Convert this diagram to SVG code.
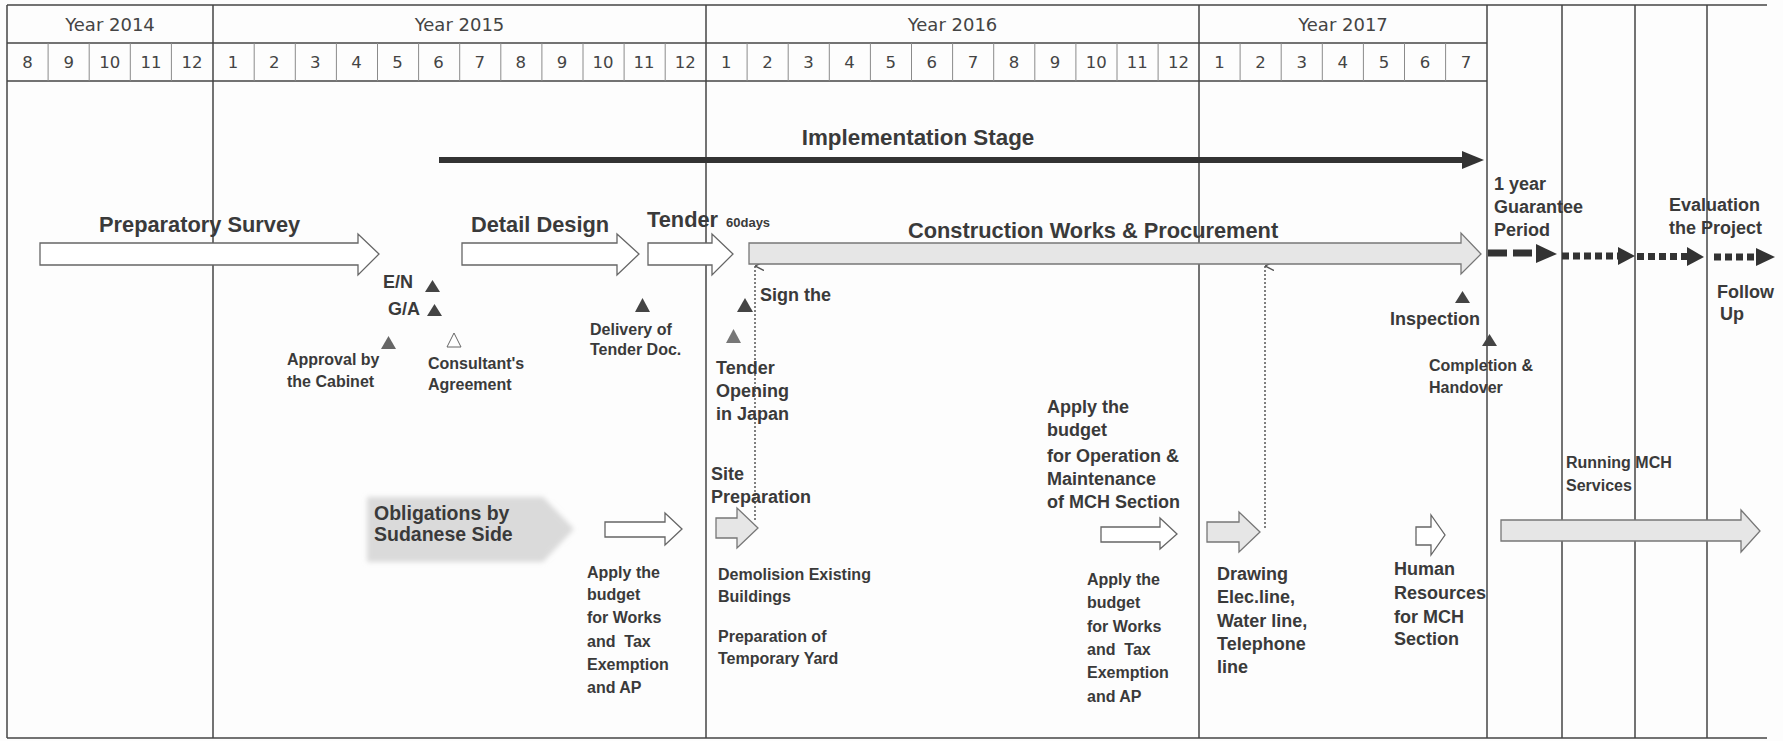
<svg xmlns="http://www.w3.org/2000/svg" width="1783" height="741" viewBox="0 0 1783 741">
<style>
.hd{font-family:"DejaVu Sans","Liberation Sans",sans-serif;font-size:16.5px;fill:#444;text-anchor:middle}
.yr{font-size:18px}
.t{font-family:"Liberation Sans",Arial,sans-serif;font-weight:bold;fill:#3a3a3a;white-space:pre}
.s16{font-size:16px}.s18{font-size:18px}.s19{font-size:19px}.s21{font-size:21.8px}
.g{stroke:#444;stroke-width:1.5;fill:none}
.m{stroke:#8a8a8a;stroke-width:1;fill:none}
.hol{fill:#fff;stroke:#666;stroke-width:1.3}
.gry{fill:#e6e6e6;stroke:#777;stroke-width:1.3}
.tri{fill:#444}
.dot{stroke:#555;stroke-width:1.5;stroke-dasharray:2 2;fill:none}
.dk{fill:#333}
</style>
<defs>
<filter id="blur" x="-10%" y="-20%" width="120%" height="140%"><feGaussianBlur stdDeviation="2.5"/></filter>
<marker id="up" viewBox="0 0 6 6" refX="3" refY="0" markerWidth="6" markerHeight="6" orient="auto-start-reverse"><path d="M0,6 L3,0 L6,6" fill="none" stroke="#555" stroke-width="1"/></marker>
</defs>
<rect x="0" y="0" width="1783" height="741" fill="#fdfdfd"/>
<g id="grid">
<line class="g" x1="7" y1="5" x2="1767" y2="5"/>
<line class="g" x1="7" y1="43" x2="1487" y2="43"/>
<line class="g" x1="7" y1="81" x2="1487" y2="81"/>
<line class="g" x1="7" y1="738" x2="1767" y2="738"/>
<line class="g" x1="7" y1="5" x2="7" y2="738"/>
<line class="g" x1="213" y1="5" x2="213" y2="738"/>
<line class="g" x1="706" y1="5" x2="706" y2="738"/>
<line class="g" x1="1199" y1="5" x2="1199" y2="738"/>
<line class="g" x1="1487" y1="5" x2="1487" y2="738"/>
<line class="g" x1="1562" y1="5" x2="1562" y2="738"/>
<line class="g" x1="1635" y1="5" x2="1635" y2="738"/>
<line class="g" x1="1707" y1="5" x2="1707" y2="738"/>
<g class="m">
<line x1="48.1" y1="43" x2="48.1" y2="81"/><line x1="89.2" y1="43" x2="89.2" y2="81"/><line x1="130.3" y1="43" x2="130.3" y2="81"/><line x1="171.4" y1="43" x2="171.4" y2="81"/>
<line x1="254.2" y1="43" x2="254.2" y2="81"/><line x1="295.3" y1="43" x2="295.3" y2="81"/><line x1="336.4" y1="43" x2="336.4" y2="81"/><line x1="377.5" y1="43" x2="377.5" y2="81"/><line x1="418.6" y1="43" x2="418.6" y2="81"/><line x1="459.7" y1="43" x2="459.7" y2="81"/><line x1="500.8" y1="43" x2="500.8" y2="81"/><line x1="541.9" y1="43" x2="541.9" y2="81"/><line x1="583" y1="43" x2="583" y2="81"/><line x1="624.1" y1="43" x2="624.1" y2="81"/><line x1="665.2" y1="43" x2="665.2" y2="81"/>
<line x1="747.1" y1="43" x2="747.1" y2="81"/><line x1="788.2" y1="43" x2="788.2" y2="81"/><line x1="829.3" y1="43" x2="829.3" y2="81"/><line x1="870.4" y1="43" x2="870.4" y2="81"/><line x1="911.5" y1="43" x2="911.5" y2="81"/><line x1="952.6" y1="43" x2="952.6" y2="81"/><line x1="993.7" y1="43" x2="993.7" y2="81"/><line x1="1034.8" y1="43" x2="1034.8" y2="81"/><line x1="1075.9" y1="43" x2="1075.9" y2="81"/><line x1="1117" y1="43" x2="1117" y2="81"/><line x1="1158.1" y1="43" x2="1158.1" y2="81"/>
<line x1="1240.1" y1="43" x2="1240.1" y2="81"/><line x1="1281.2" y1="43" x2="1281.2" y2="81"/><line x1="1322.3" y1="43" x2="1322.3" y2="81"/><line x1="1363.4" y1="43" x2="1363.4" y2="81"/><line x1="1404.5" y1="43" x2="1404.5" y2="81"/><line x1="1445.6" y1="43" x2="1445.6" y2="81"/>
</g>
<g class="hd yr">
<text x="110" y="31">Year 2014</text><text x="459.5" y="31">Year 2015</text><text x="952.5" y="31">Year 2016</text><text x="1343" y="31">Year 2017</text>
</g>
<g class="hd">
<text x="27.6" y="68">8</text><text x="68.7" y="68">9</text><text x="109.8" y="68">10</text><text x="150.9" y="68">11</text><text x="192" y="68">12</text>
<text x="233.1" y="68">1</text><text x="274.2" y="68">2</text><text x="315.3" y="68">3</text><text x="356.4" y="68">4</text><text x="397.5" y="68">5</text><text x="438.6" y="68">6</text><text x="479.7" y="68">7</text><text x="520.8" y="68">8</text><text x="561.9" y="68">9</text><text x="603" y="68">10</text><text x="644.1" y="68">11</text><text x="685.2" y="68">12</text>
<text x="726.3" y="68">1</text><text x="767.4" y="68">2</text><text x="808.5" y="68">3</text><text x="849.6" y="68">4</text><text x="890.7" y="68">5</text><text x="931.8" y="68">6</text><text x="972.9" y="68">7</text><text x="1014" y="68">8</text><text x="1055.1" y="68">9</text><text x="1096.2" y="68">10</text><text x="1137.3" y="68">11</text><text x="1178.4" y="68">12</text>
<text x="1219.5" y="68">1</text><text x="1260.6" y="68">2</text><text x="1301.7" y="68">3</text><text x="1342.8" y="68">4</text><text x="1383.9" y="68">5</text><text x="1425" y="68">6</text><text x="1466.1" y="68">7</text>
</g>
</g>
<g id="connectors">
<line x1="439" y1="160" x2="1465" y2="160" stroke="#333" stroke-width="6"/>
<polygon class="dk" points="1462,151 1484,160 1462,169"/>
<line class="dot" x1="755" y1="266" x2="755" y2="522" marker-start="url(#up)"/>
<line class="dot" x1="1265" y1="266" x2="1265" y2="528" marker-start="url(#up)"/>
<line x1="1488" y1="253" x2="1537" y2="253" stroke="#333" stroke-width="7" stroke-dasharray="19 6"/>
<polygon class="dk" points="1536,244 1557,254 1536,263"/>
<line x1="1562" y1="256" x2="1619" y2="256" stroke="#333" stroke-width="7" stroke-dasharray="7 4"/>
<polygon class="dk" points="1618,247 1635,256 1618,265"/>
<line x1="1637" y1="256.5" x2="1688" y2="256.5" stroke="#333" stroke-width="7" stroke-dasharray="7 4"/>
<polygon class="dk" points="1687,247 1704,257 1687,266"/>
<line x1="1714" y1="257" x2="1757" y2="257" stroke="#333" stroke-width="7" stroke-dasharray="7 4"/>
<polygon class="dk" points="1756,248 1775,257 1756,266"/>
</g>
<g id="implementation-stage"><text class="t" font-size="22.4" x="918" y="145" text-anchor="middle">Implementation Stage</text></g>
<g id="preparatory-survey">
<path class="hol" d="M40,243 L358,243 L358,234 L379,254 L358,275 L358,265 L40,265 Z"/>
<text class="t s21" x="99" y="232">Preparatory Survey</text>
</g>
<g id="detail-design">
<path class="hol" d="M462,243 L617,243 L617,234 L639,254 L617,275 L617,265 L462,265 Z"/>
<text class="t s21" x="471" y="232">Detail Design</text>
</g>
<g id="tender">
<path class="hol" d="M648,243 L712,243 L712,234 L733,254 L712,275 L712,265 L648,265 Z"/>
<text class="t s21" x="647" y="227">Tender</text>
<text class="t" x="726" y="227" font-size="13">60days</text>
</g>
<g id="construction">
<path class="gry" d="M749,243 L1461,243 L1461,233 L1481,254 L1461,274 L1461,264 L749,264 Z"/>
<text class="t s21" x="908" y="238">Construction Works &amp; Procurement</text>
</g>
<g id="en">
<text class="t s18" x="383" y="288">E/N</text><polygon class="tri" points="425,292 432.5,280 440,292"/>
</g>
<g id="ga">
<text class="t s18" x="388" y="315">G/A</text><polygon class="tri" points="427,316 434.5,304 442,316"/>
</g>
<g id="approval">
<polygon fill="#666" points="381,349 388.5,336 396,349"/>
<text class="t s16" x="287" y="365">Approval by</text><text class="t s16" x="287" y="387">the Cabinet</text>
</g>
<g id="consultant">
<polygon fill="#fff" stroke="#666" stroke-width="1" points="447,347 454,333 461,347"/>
<text class="t s16" x="428" y="369">Consultant's</text><text class="t s16" x="428" y="390">Agreement</text>
</g>
<g id="delivery">
<polygon class="tri" points="635,312 642.5,298 650,312"/>
<text class="t s16" x="590" y="335">Delivery of</text><text class="t s16" x="590" y="355">Tender Doc.</text>
</g>
<g id="sign">
<polygon class="tri" points="737,312 745,298 753,312"/>
<text class="t s18" x="760" y="301">Sign the</text>
</g>
<g id="tender-opening">
<polygon fill="#777" points="726,343 733.5,329 741,343"/>
<text class="t s18" x="716" y="374">Tender</text><text class="t s18" x="716" y="397">Opening</text><text class="t s18" x="716" y="420">in Japan</text>
</g>
<g id="inspection">
<polygon class="tri" points="1455,303 1462.5,291 1470,303"/>
<text class="t s18" x="1390" y="325">Inspection</text>
</g>
<g id="completion">
<polygon class="tri" points="1482,346 1489.5,334 1497,346"/>
<text class="t s16" x="1429" y="371">Completion &amp;</text><text class="t s16" x="1429" y="393">Handover</text>
</g>
<g id="guarantee">
<text class="t s18" x="1494" y="190">1 year</text><text class="t s18" x="1494" y="213">Guarantee</text><text class="t s18" x="1494" y="236">Period</text>
</g>
<g id="evaluation">
<text class="t s18" x="1669" y="211">Evaluation</text><text class="t s18" x="1669" y="234">the Project</text>
</g>
<g id="follow-up">
<text class="t s18" x="1717" y="298">Follow</text><text class="t s18" x="1720" y="320">Up</text>
</g>
<g id="obligations">
<polygon fill="#dadada" filter="url(#blur)" points="367,497 543,497 574,529 543,562 367,562"/>
<text class="t" x="374" y="520" font-size="19.5" fill="#444">Obligations by</text>
<text class="t" x="374" y="541" font-size="19.5" fill="#444">Sudanese Side</text>
</g>
<g id="apply-works-1">
<path class="hol" d="M605,522 L665,522 L665,513 L682,529 L665,545 L665,537 L605,537 Z"/>
<text class="t s16" x="587" y="578">Apply the</text><text class="t s16" x="587" y="600">budget</text><text class="t s16" x="587" y="623">for Works</text><text class="t s16" x="587" y="647">and  Tax</text><text class="t s16" x="587" y="670">Exemption</text><text class="t s16" x="587" y="693">and AP</text>
</g>
<g id="site-preparation">
<path class="gry" d="M716,518 L737,518 L737,508 L758,528 L737,548 L737,538 L716,538 Z"/>
<text class="t s18" x="711" y="480">Site</text><text class="t s18" x="711" y="503">Preparation</text>
<text class="t s16" x="718" y="580">Demolision Existing</text><text class="t s16" x="718" y="602">Buildings</text>
<text class="t s16" x="718" y="642">Preparation of</text><text class="t s16" x="718" y="664">Temporary Yard</text>
</g>
<g id="apply-om">
<text class="t s18" x="1047" y="413">Apply the</text><text class="t s18" x="1047" y="436">budget</text><text class="t s18" x="1047" y="462">for Operation &amp;</text><text class="t s18" x="1047" y="485">Maintenance</text><text class="t s18" x="1047" y="508">of MCH Section</text>
</g>
<g id="apply-works-2">
<path class="hol" d="M1101,527 L1160,527 L1160,518 L1177,534 L1160,549 L1160,542 L1101,542 Z"/>
<text class="t s16" x="1087" y="585">Apply the</text><text class="t s16" x="1087" y="608">budget</text><text class="t s16" x="1087" y="632">for Works</text><text class="t s16" x="1087" y="655">and  Tax</text><text class="t s16" x="1087" y="678">Exemption</text><text class="t s16" x="1087" y="702">and AP</text>
</g>
<g id="drawing-lines">
<path class="gry" d="M1207,522 L1239,522 L1239,512 L1260,532 L1239,552 L1239,542 L1207,542 Z"/>
<text class="t s18" x="1217" y="580">Drawing</text><text class="t s18" x="1217" y="603">Elec.line,</text><text class="t s18" x="1217" y="627">Water line,</text><text class="t s18" x="1217" y="650">Telephone</text><text class="t s18" x="1217" y="673">line</text>
</g>
<g id="human-resources">
<path class="hol" d="M1416,527 L1431,527 L1431,515 L1445,535 L1431,555 L1431,545 L1416,545 Z"/>
<text class="t s18" x="1394" y="575">Human</text><text class="t s18" x="1394" y="599">Resources</text><text class="t s18" x="1394" y="623">for MCH</text><text class="t s18" x="1394" y="645">Section</text>
</g>
<g id="running-mch">
<text class="t s16" x="1566" y="468">Running MCH</text><text class="t s16" x="1566" y="491">Services</text>
<path class="gry" d="M1501,520 L1741,520 L1741,510 L1760,531 L1741,552 L1741,541 L1501,541 Z"/>
</g>
</svg>
